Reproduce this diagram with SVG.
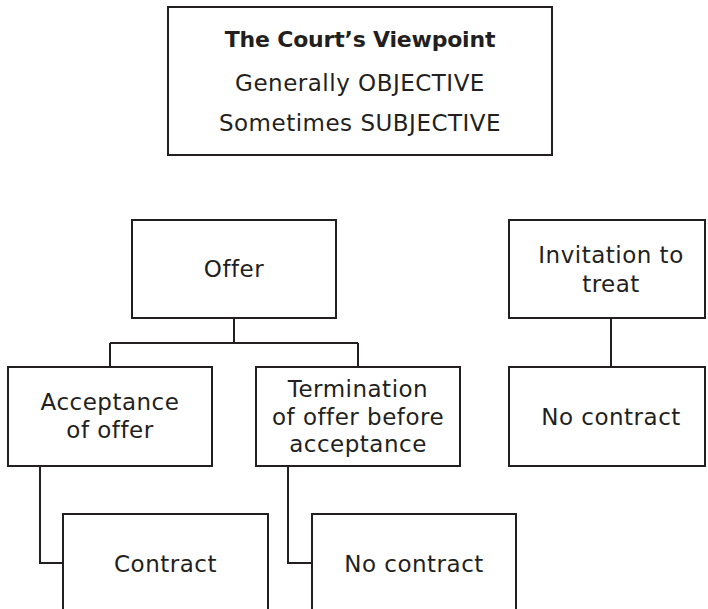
<svg xmlns="http://www.w3.org/2000/svg" width="708" height="609" viewBox="0 0 708 609">
<style>
.box{fill:#fff;stroke:#231f20;stroke-width:2}
.ln{fill:none;stroke:#231f20;stroke-width:2}
text{font-family:"DejaVu Sans","Liberation Sans",sans-serif;font-size:23px;fill:#231f20;text-anchor:middle;letter-spacing:0.5px}
.b{font-weight:bold;font-size:22px;letter-spacing:-0.2px}
</style>
<rect width="708" height="609" fill="#fff"/>
<g id="connectors">
<path class="ln" d="M234 318V343M110 343H358M110 343V367M358 343V367"/>
<path class="ln" d="M40 466V563H63"/>
<path class="ln" d="M288 466V563H312"/>
<path class="ln" d="M611 318V367"/>
</g>
<g id="viewpoint">
<rect class="box" x="168" y="7" width="384" height="148"/>
<text class="b" x="360" y="46.5">The Court’s Viewpoint</text>
<text x="360" y="90.5">Generally OBJECTIVE</text>
<text x="360" y="131">Sometimes SUBJECTIVE</text>
</g>
<g id="offer">
<rect class="box" x="132" y="220" width="204" height="98"/>
<text x="234" y="277">Offer</text>
</g>
<g id="invitation">
<rect class="box" x="509" y="220" width="196" height="98"/>
<text x="611" y="263">Invitation to</text>
<text x="611" y="292">treat</text>
</g>
<g id="acceptance">
<rect class="box" x="8" y="367" width="204" height="99"/>
<text x="110" y="410">Acceptance</text>
<text x="110" y="438">of offer</text>
</g>
<g id="termination">
<rect class="box" x="256" y="367" width="204" height="99"/>
<text x="358" y="397">Termination</text>
<text x="358" y="425">of offer before</text>
<text x="358" y="452">acceptance</text>
</g>
<g id="nocontract-invitation">
<rect class="box" x="509" y="367" width="196" height="99"/>
<text x="611" y="425">No contract</text>
</g>
<g id="contract">
<rect class="box" x="63" y="514" width="205" height="110"/>
<text x="165.5" y="572">Contract</text>
</g>
<g id="nocontract-termination">
<rect class="box" x="312" y="514" width="204" height="110"/>
<text x="414" y="572">No contract</text>
</g>
</svg>
